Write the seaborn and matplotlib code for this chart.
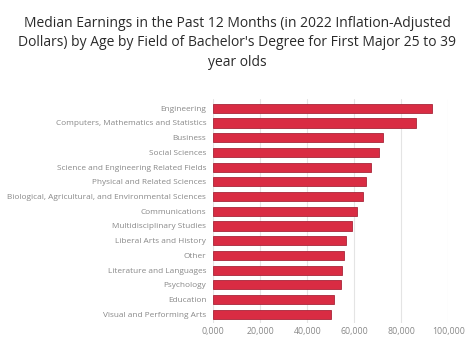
import matplotlib
matplotlib.use("Agg")
import matplotlib.pyplot as plt
import pandas as pd
import seaborn as sns

fields = [
    "Engineering",
    "Computers, Mathematics and Statistics",
    "Business",
    "Social Sciences",
    "Science and Engineering Related Fields",
    "Physical and Related Sciences",
    "Biological, Agricultural, and Environmental Sciences",
    "Communications",
    "Multidisciplinary Studies",
    "Liberal Arts and History",
    "Other",
    "Literature and Languages",
    "Psychology",
    "Education",
    "Visual and Performing Arts",
]
earnings = [92900, 86300, 72100, 70500, 67000, 65000, 63600, 61100,
            59200, 56300, 55700, 54900, 54200, 51500, 50100]
tick_vals = [0, 20000, 40000, 60000, 80000, 100000]
tick_labels = ["0,000", "20,000", "40,000", "60,000", "80,000", "100,000"]

title = ("Median Earnings in the Past 12 Months (in 2022 Inflation-Adjusted\n"
         "Dollars) by Age by Field of Bachelor's Degree for First Major 25 to 39\n"
         "year olds")

df = pd.DataFrame({"field": fields, "earnings": earnings})

sns.set_style("white")
plt.rcParams["font.family"] = ["Open Sans", "DejaVu Sans"]

fig = plt.figure(figsize=(4.74, 3.55), dpi=100)
ax = fig.add_axes([0.45, 0.09, 0.4958, 0.63])

sns.barplot(data=df, x="earnings", y="field", color="#d92c43",
            edgecolor="#a8263a", linewidth=0.6, width=0.62, saturation=1, ax=ax)

ax.set_xlim(0, 100000)
ax.set_ylim(14.6, -0.6)
ax.set_xticks(tick_vals)
ax.set_xticklabels(tick_labels)
ax.set_xlabel("")
ax.set_ylabel("")
ax.xaxis.grid(True, color="#e4e4e4", linewidth=0.8)
ax.set_axisbelow(True)
ax.tick_params(axis="y", length=0, labelsize=5.95, colors="#888888", pad=5)
ax.tick_params(axis="x", length=0, labelsize=6.3, colors="#888888", pad=3)
sns.despine(ax=ax, left=True, bottom=True)

fig.text(0.5, 0.955, title, ha="center", va="top", fontsize=10,
         color="#2a2a2a", linespacing=1.4)

fig.savefig("out.png", dpi=100)
